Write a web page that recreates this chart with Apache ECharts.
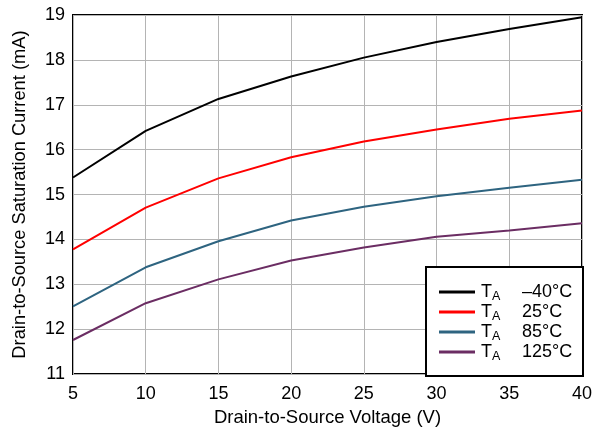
<!DOCTYPE html>
<html>
<head>
<meta charset="utf-8">
<script src="https://cdn.jsdelivr.net/npm/echarts@6/dist/echarts.min.js"></script>
<style>html,body{margin:0;padding:0;background:#fff}#c{width:595px;height:432px}</style>
</head>
<body>
<div id="c"></div>
<script>
const xValues = [5, 10, 15, 20, 25, 30, 35, 40];
const seriesNames = ['\u201340\u00B0C', '25\u00B0C', '85\u00B0C', '125\u00B0C'];
const tm40 = [15.38, 16.42, 17.13, 17.63, 18.05, 18.40, 18.69, 18.95];
const t25 = [13.78, 14.71, 15.36, 15.83, 16.18, 16.45, 16.69, 16.87];
const t85 = [12.51, 13.38, 13.96, 14.42, 14.73, 14.96, 15.15, 15.33];
const t125 = [11.76, 12.58, 13.11, 13.53, 13.82, 14.06, 14.20, 14.36];
const colors = ['#000000', '#ff0000', '#2e6480', '#6b2d63'];
const allData = [tm40, t25, t85, t125];

const chart = echarts.init(document.getElementById('c'));
const font = 'Liberation Sans, Arial, sans-serif';
chart.setOption({
  animation: false,
  textStyle: { fontFamily: font },
  grid: { left: 73, right: 13, top: 15, bottom: 57, show: true, borderColor: '#000', borderWidth: 2, backgroundColor: 'transparent' },
  xAxis: {
    type: 'value', min: 5, max: 40, interval: 5,
    name: 'Drain-to-Source Voltage (V)', nameLocation: 'middle', nameGap: 33,
    nameTextStyle: { fontSize: 18.5, color: '#000', fontFamily: font },
    axisLine: { show: false }, axisTick: { show: false },
    axisLabel: { fontSize: 18, color: '#000', margin: 11, fontFamily: font },
    splitLine: { show: true, lineStyle: { color: '#b4b4b4', width: 1 } }
  },
  yAxis: {
    type: 'value', min: 11, max: 19, interval: 1,
    name: 'Drain-to-Source Saturation Current (mA)', nameLocation: 'middle', nameGap: 44,
    nameTextStyle: { fontSize: 18.3, color: '#000', fontFamily: font },
    axisLine: { show: false }, axisTick: { show: false },
    axisLabel: { fontSize: 18, color: '#000', margin: 8, fontFamily: font },
    splitLine: { show: true, lineStyle: { color: '#b4b4b4', width: 1 } }
  },
  graphic: [{
    type: 'rect', left: 425, top: 266, z: 50,
    shape: { width: 157, height: 109 },
    style: { fill: '#fff', stroke: '#000', lineWidth: 2 }
  }],
  legend: {
    orient: 'vertical', left: 434, top: 278, z: 60,
    itemWidth: 36, itemHeight: 3, itemGap: 0, icon: 'rect',
    data: seriesNames,
    formatter: function (name) { return '{t|T}{s|A}{v|' + name + '}'; },
    textStyle: {
      fontFamily: font, color: '#000', fontSize: 18, padding: [0, 0, 0, 1],
      rich: {
        t: { fontSize: 18, fontFamily: font, color: '#000', lineHeight: 22 },
        s: { fontSize: 12.5, fontFamily: font, color: '#000', width: 30, lineHeight: 8, verticalAlign: 'bottom' },
        v: { fontSize: 18, fontFamily: font, color: '#000', lineHeight: 22 }
      }
    }
  },
  series: allData.map(function (d, i) {
    return {
      name: seriesNames[i], type: 'line', symbol: 'none', smooth: false,
      color: colors[i],
      lineStyle: { width: 2, color: colors[i] },
      data: xValues.map(function (x, j) { return [x, d[j]]; })
    };
  })
});
</script>
</body>
</html>
